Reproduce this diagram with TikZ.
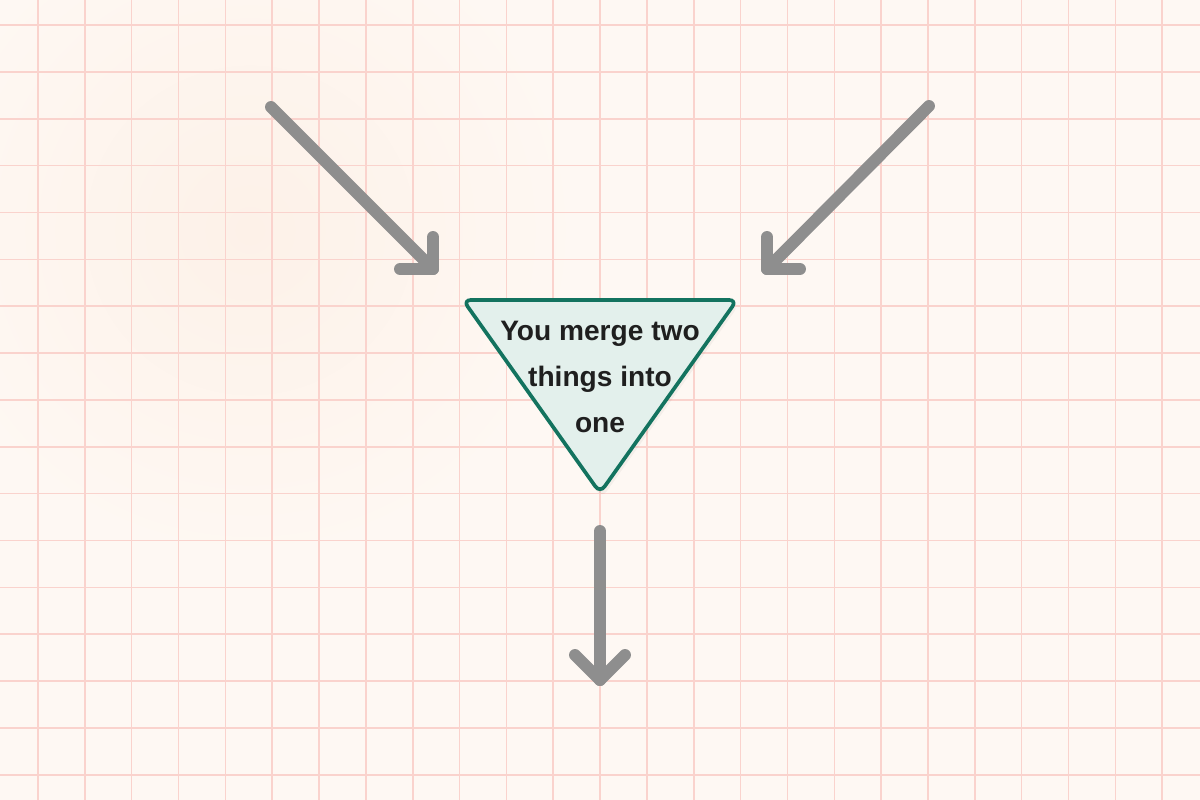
\documentclass[tikz,border=0pt]{standalone}
\usepackage{fontspec}
\setmainfont{Liberation Sans}
\usetikzlibrary{calc}
\definecolor{paper}{HTML}{FEF8F3}
\definecolor{paperwarm}{HTML}{FDF1E8}
\definecolor{gridc}{HTML}{FAD3CD}
\definecolor{arrowc}{HTML}{8E8E8E}
\definecolor{trifill}{HTML}{E3F0EC}
\definecolor{tridraw}{HTML}{13735F}
\definecolor{txt}{HTML}{1F1F1F}
\tikzset{
  gridline/.style={draw=gridc, line width=0.9pt},
  arrowline/.style={draw=arrowc, line width=6.8pt, line cap=round, line join=round},
  tribox/.style={draw=tridraw, fill=trifill, line width=2.1pt, rounded corners=4.5pt, line join=round},
  tritext/.style={text=txt, font=\bfseries\fontsize{16pt}{26.3pt}\selectfont, align=center, inner sep=0pt},
}
\begin{document}
\begin{tikzpicture}[x=0.02cm,y=-0.02cm]
\useasboundingbox (0,0) rectangle (1200,800);
\fill[paper] (0,0) rectangle (1200,800);
\shade[inner color=paperwarm, outer color=paper] (250,230) circle (330);
\foreach \k in {0,...,24} { \draw[gridline] ({38+46.84*\k},0) -- ({38+46.84*\k},800); }
\foreach \k in {0,...,16} { \draw[gridline] (0,{25+46.86*\k}) -- (1200,{25+46.86*\k}); }
% triangle
\coordinate (tl) at (463,300);
\coordinate (tr) at (737,300);
\coordinate (tb) at (600,493);
\fill[black, opacity=0.04, rounded corners=4.5pt] ($(tl)+(2,5)$) -- ($(tr)+(2,5)$) -- ($(tb)+(2,5)$) -- cycle;
\draw[tribox] (tl) -- (tr) -- (tb) -- cycle;
\node[tritext] (label) at (600,377) {You merge two\\things into\\one};
% arrows
\coordinate (s1) at (271,107);
\coordinate (e1) at (433,269);
\coordinate (e1a) at (433,237);
\coordinate (e1b) at (400,269);
\coordinate (s2) at (929,106);
\coordinate (e2) at (767,269);
\coordinate (e2a) at (767,237);
\coordinate (e2b) at (800,269);
\coordinate (s3) at (600,531);
\coordinate (e3) at (600,680);
\coordinate (e3a) at (575,655);
\coordinate (e3b) at (625,655);
\draw[arrowline] (s1) -- (e1);
\draw[arrowline] (e1a) -- (e1) -- (e1b);
\draw[arrowline] (s2) -- (e2);
\draw[arrowline] (e2a) -- (e2) -- (e2b);
\draw[arrowline] (s3) -- (e3);
\draw[arrowline] (e3a) -- (e3) -- (e3b);
\end{tikzpicture}
\end{document}
